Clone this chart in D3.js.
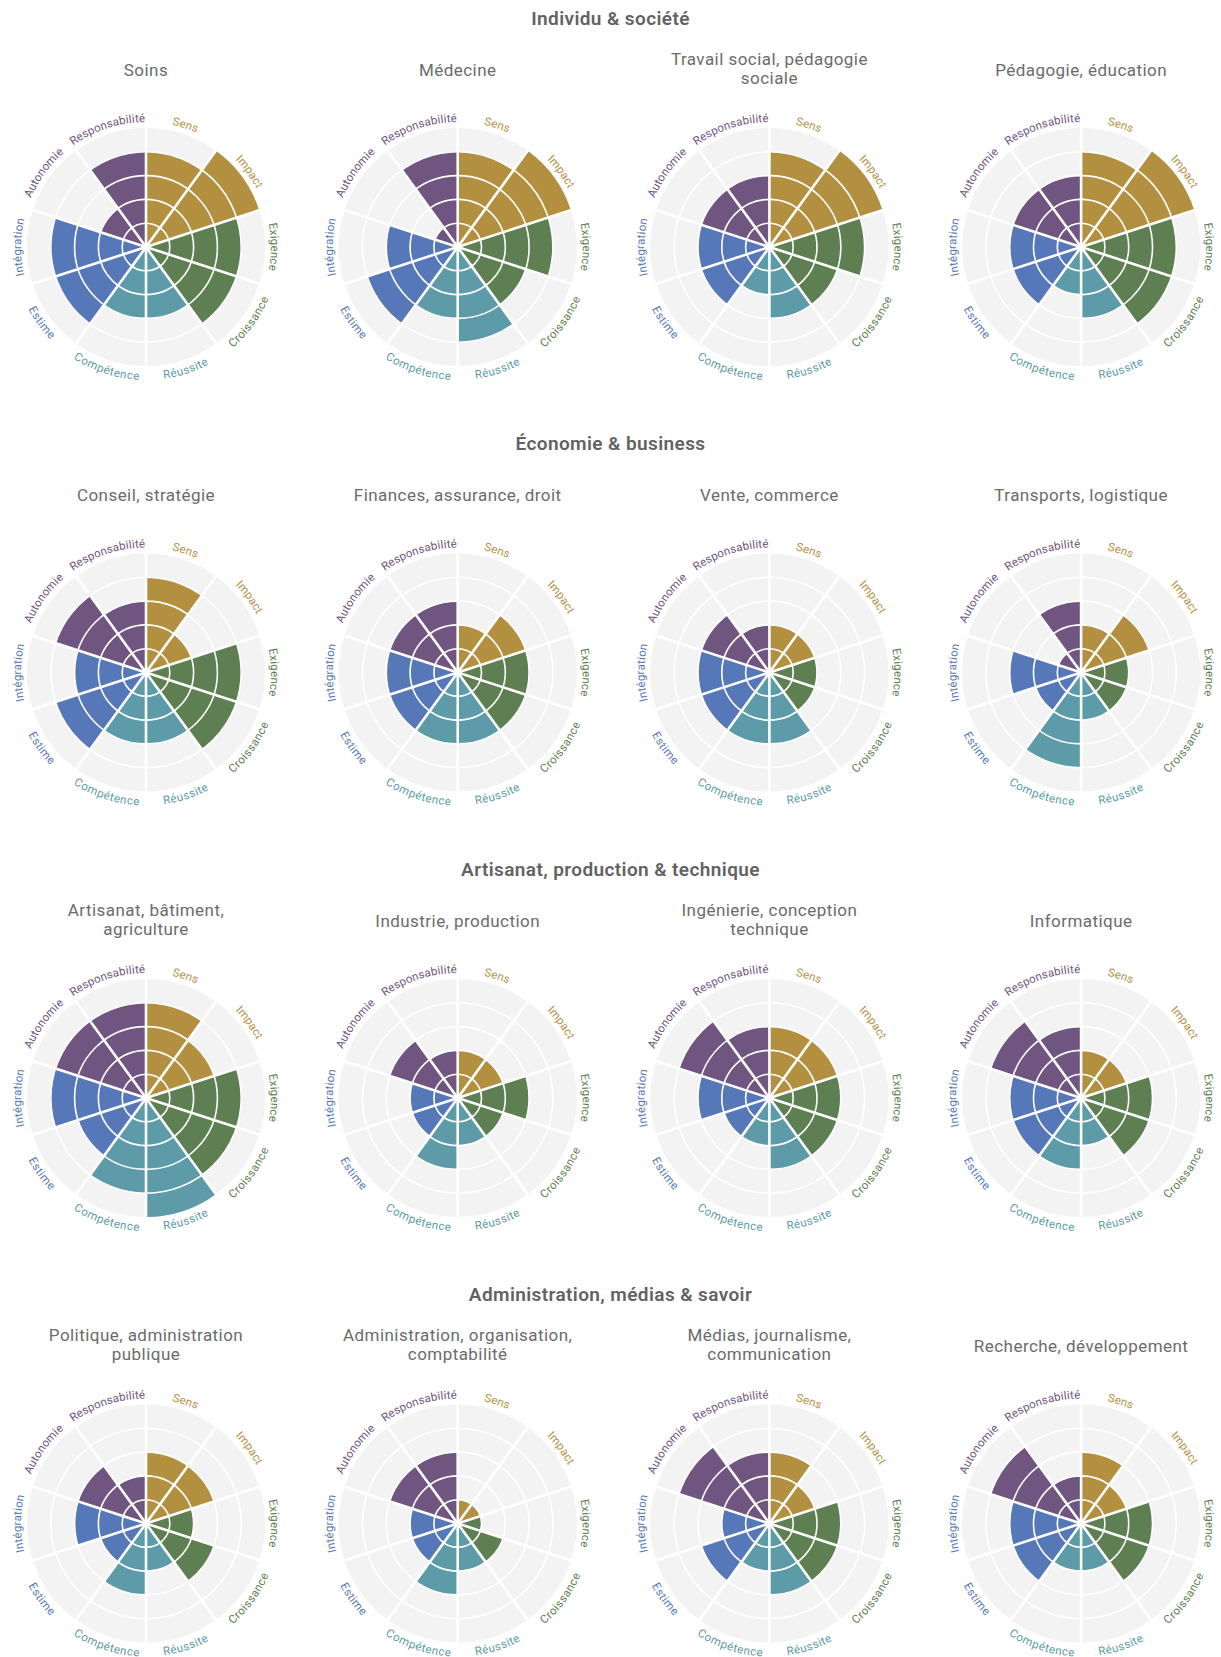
<!DOCTYPE html>
<html><head><meta charset="utf-8">
<script src="https://cdn.jsdelivr.net/npm/d3@7"></script>
<style>
body{margin:0;background:#fff;}
svg{display:block;font-family:Roboto,"Noto Sans",sans-serif;}
</style>
</head><body>
<svg id="chart" width="1221" height="1657"></svg>
<script>
// ---- data ----
const categories = ["Sens","Impact","Exigence","Croissance","Réussite","Compétence","Estime","Intégration","Autonomie","Responsabilité"];
const categoryColors = ["#b3903f","#b3903f","#5e7f52","#5e7f52","#5c9ba7","#5c9ba7","#5778b8","#5778b8","#6f5580","#6f5580"];
const ringTicks = [1,2,3,4];
const maxValue = 5;

const groupTitles = ["Individu & société","Économie & business","Artisanat, production & technique","Administration, médias & savoir"];

const chartTitles = [
  [["Soins"],["Médecine"],["Travail social, pédagogie","sociale"],["Pédagogie, éducation"]],
  [["Conseil, stratégie"],["Finances, assurance, droit"],["Vente, commerce"],["Transports, logistique"]],
  [["Artisanat, bâtiment,","agriculture"],["Industrie, production"],["Ingénierie, conception","technique"],["Informatique"]],
  [["Politique, administration","publique"],["Administration, organisation,","comptabilité"],["Médias, journalisme,","communication"],["Recherche, développement"]]
];

// values in category order: Sens, Impact, Exigence, Croissance, Réussite, Compétence, Estime, Intégration, Autonomie, Responsabilité
const soins          = [4,5,4,4,3,3,4,4,2,4];
const medecine       = [4,5,4,3,4,3,4,3,1,4];
const travailSocial  = [4,5,4,3,3,2,3,3,3,3];
const pedagogie      = [4,5,4,4,3,2,3,3,3,3];
const conseil        = [4,2,4,4,3,3,4,3,4,3];
const finances       = [2,3,3,3,3,3,3,3,3,3];
const vente          = [2,2,2,2,3,3,3,3,3,2];
const transports     = [2,3,2,2,2,4,2,3,1,3];
const artisanat      = [4,3,4,4,5,4,3,4,4,4];
const industrie      = [2,2,3,2,2,3,2,2,3,2];
const ingenierie     = [3,3,3,3,3,2,2,3,4,3];
const informatique   = [2,2,3,3,2,3,3,3,4,3];
const politique      = [3,3,2,3,2,3,2,3,3,2];
const administration = [1,1,1,2,2,3,2,2,3,3];
const medias         = [3,2,3,3,3,2,3,2,4,3];
const recherche      = [3,2,3,3,2,2,3,3,4,2];

const chartValues = [
  [soins, medecine, travailSocial, pedagogie],
  [conseil, finances, vente, transports],
  [artisanat, industrie, ingenierie, informatique],
  [politique, administration, medias, recherche]
];

// ---- layout ----
const R = 119;
const colX0 = 146, colStep = 311.7;
const rowY0 = 247, rowStep = 425.5;
const groupTitleY0 = 18;
const labelR = 129;

const svg = d3.select("#chart");
const defs = svg.append("defs");
const r = d3.scaleLinear().domain([0, maxValue]).range([0, R]);
const angle = d3.scaleBand().domain(categories).range([0, 2*Math.PI]);
const arcGen = d3.arc().innerRadius(0);

function pt(rad, a){ return [rad*Math.sin(a), -rad*Math.cos(a)]; }

groupTitles.forEach((gt, gi) => {
  svg.append("text")
    .attr("x", 610.5).attr("y", groupTitleY0 + gi*rowStep)
    .attr("dy", "0.35em")
    .attr("text-anchor", "middle")
    .attr("font-size", 19).attr("font-weight", 600)
    .attr("letter-spacing", 0.4)
    .attr("fill", "#626262")
    .text(gt);

  chartValues[gi].forEach((vals, ci) => {
    const cx = colX0 + ci*colStep, cy = rowY0 + gi*rowStep;
    const g = svg.append("g").attr("transform", `translate(${cx},${cy})`);
    const id = `c${gi}_${ci}`;

    // title
    const lines = chartTitles[gi][ci];
    const t = svg.append("text")
      .attr("text-anchor", "middle")
      .attr("font-size", 17)
      .attr("letter-spacing", 0.45)
      .attr("fill", "#6b6b6b");
    lines.forEach((ln, li) => {
      const y = lines.length === 1 ? cy - 177 : cy - 188 + li*19;
      t.append("tspan").attr("x", cx).attr("y", y).attr("dy", "0.35em").text(ln);
    });

    // background sectors
    g.selectAll("path.bg").data(categories).join("path")
      .attr("class", "bg")
      .attr("fill", "#f3f3f3")
      .attr("d", c => arcGen({startAngle: angle(c), endAngle: angle(c)+angle.bandwidth(), outerRadius: R}));

    // bars
    g.selectAll("path.bar").data(categories).join("path")
      .attr("class", "bar")
      .attr("fill", (c, i) => categoryColors[i])
      .attr("d", (c, i) => arcGen({startAngle: angle(c), endAngle: angle(c)+angle.bandwidth(), outerRadius: r(vals[i])}));

    // rings
    g.selectAll("circle.ring").data(ringTicks).join("circle")
      .attr("class", "ring")
      .attr("r", d => r(d))
      .attr("fill", "none").attr("stroke", "#fff").attr("stroke-width", 1.6);

    // separators
    g.selectAll("line.sep").data(categories).join("line")
      .attr("class", "sep")
      .attr("x1", 0).attr("y1", 0)
      .attr("x2", c => pt(R + 0.5, angle(c))[0])
      .attr("y2", c => pt(R + 0.5, angle(c))[1])
      .attr("stroke", "#fff").attr("stroke-width", 2.6);

    // labels along arcs
    categories.forEach((c, i) => {
      const mid = angle(c) + angle.bandwidth()/2;
      const deg = mid * 180 / Math.PI;
      const span = Math.PI/3;
      const smile = deg > 90.5 && deg < 269.5;
      let a0, a1, sweep;
      if (smile) { a0 = mid + span; a1 = mid - span; sweep = 0; }
      else { a0 = mid - span; a1 = mid + span; sweep = 1; }
      const p0 = pt(labelR, a0), p1 = pt(labelR, a1);
      defs.append("path")
        .attr("id", `${id}_l${i}`)
        .attr("d", `M${p0[0]},${p0[1]} A${labelR},${labelR} 0 0 ${sweep} ${p1[0]},${p1[1]}`);
      g.append("text")
        .attr("font-size", 11.5)
        .attr("letter-spacing", 0.3)
        .attr("fill", categoryColors[i])
        .attr("dy", "0.35em")
        .append("textPath")
        .attr("href", `#${id}_l${i}`)
        .attr("startOffset", "50%")
        .attr("text-anchor", "middle")
        .text(c);
    });
  });
});
</script>
</body></html>
